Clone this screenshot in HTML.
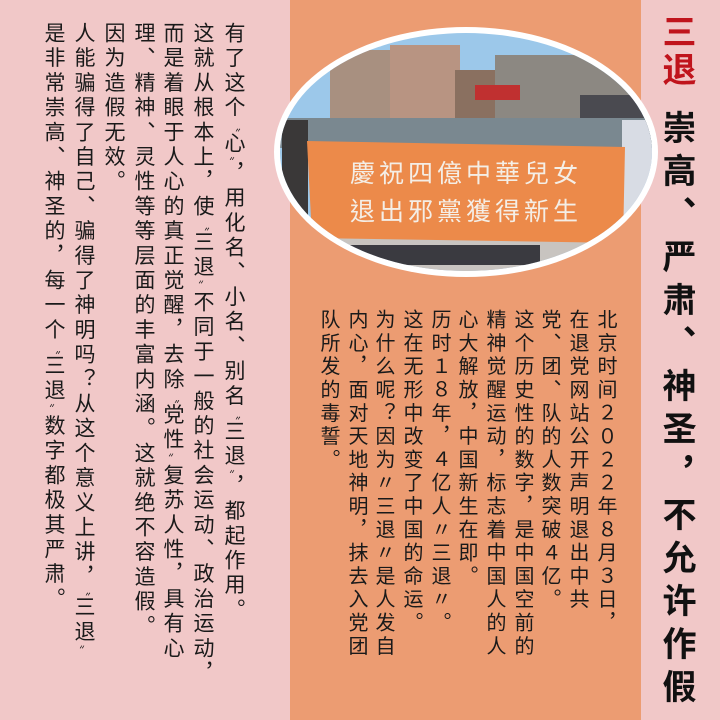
<!DOCTYPE html>
<html><head><meta charset="utf-8">
<style>
html,body{margin:0;padding:0}
body{width:720px;height:720px;position:relative;overflow:hidden;background:#f1c8c8;font-family:"Noto Sans CJK SC",sans-serif;}
.col{position:absolute;writing-mode:vertical-rl;text-orientation:upright;white-space:nowrap;color:#1a1a1a;font-family:"Noto Sans CJK SC",sans-serif;}
.l{font-size:21px;letter-spacing:3.7px;width:30px;top:22px;line-height:30px}
.m{font-size:20px;letter-spacing:3.3px;width:27px;top:309px;line-height:27px}
.t{font-size:34px;font-weight:bold;width:46px;line-height:46px;left:656px;letter-spacing:9px}
.q{font-size:11px;letter-spacing:0;font-family:"Noto Sans CJK JP",sans-serif}
</style></head><body>
<div style="position:absolute;left:0;top:0;width:290px;height:720px;background:#f1c8c8"></div>
<div style="position:absolute;left:290px;top:0;width:351px;height:720px;background:#ec9c72"></div>
<div style="position:absolute;left:641px;top:0;width:79px;height:720px;background:#f1c8c8"></div>

<svg style="position:absolute;left:0;top:0" width="720" height="720">
<defs><clipPath id="ec"><ellipse cx="466" cy="152" rx="186" ry="119"/></clipPath></defs>
<ellipse cx="466" cy="152" rx="192" ry="125" fill="#fff"/>
<g clip-path="url(#ec)">
<rect x="270" y="20" width="400" height="270" fill="#9cc8ea"/>
<rect x="330" y="50" width="60" height="70" fill="#a89080"/>
<rect x="390" y="45" width="70" height="80" fill="#b89482"/>
<rect x="455" y="70" width="60" height="50" fill="#8a7060"/>
<rect x="495" y="55" width="140" height="85" fill="#8c8882"/>
<rect x="475" y="85" width="45" height="15" fill="#c03030"/>
<rect x="580" y="95" width="90" height="50" fill="#4a4a50"/>
<rect x="270" y="118" width="400" height="30" fill="#7a8890"/>
<rect x="270" y="225" width="400" height="60" fill="#c8c4c0"/>
<rect x="340" y="245" width="200" height="20" fill="#3a3a40"/>
<rect x="282" y="120" width="26" height="100" fill="#3a3838"/>
<rect x="622" y="120" width="36" height="100" fill="#d8dce4"/>
<polygon points="307,141 625,147 623,243 312,238" fill="#ec8a4a"/>
<text x="466" y="182" text-anchor="middle" font-family="Noto Sans CJK TC,sans-serif" font-size="25" fill="#f4eee6" letter-spacing="4">慶祝四億中華兒女</text>
<text x="466" y="220" text-anchor="middle" font-family="Noto Sans CJK TC,sans-serif" font-size="25" fill="#f4eee6" letter-spacing="4">退出邪黨獲得新生</text>
</g>
</svg>

<div class="col l" style="left:220px">有了这个<span class="q">〝</span>心<span class="q">〞</span>，用化名、小名、别名<span class="q">〝</span>三退<span class="q">〞</span>，都起作用。</div>
<div class="col l" style="left:189px">这就从根本上，使<span class="q">〝</span>三退<span class="q">〞</span>不同于一般的社会运动、政治运动，</div>
<div class="col l" style="left:159px">而是着眼于人心的真正觉醒，去除<span class="q">〝</span>党性<span class="q">〞</span>复苏人性，具有心</div>
<div class="col l" style="left:130px">理、精神、灵性等等层面的丰富内涵。这就绝不容造假。</div>
<div class="col l" style="left:100px">因为造假无效。</div>
<div class="col l" style="left:70px">人能骗得了自己、骗得了神明吗？从这个意义上讲，<span class="q">〝</span>三退<span class="q">〞</span></div>
<div class="col l" style="left:40px">是非常崇高、神圣的，每一个<span class="q">〝</span>三退<span class="q">〞</span>数字都极其严肃。</div>

<div class="col m" style="left:594px">北京时间２０２２年８月３日，</div>
<div class="col m" style="left:566px">在退党网站公开声明退出中共</div>
<div class="col m" style="left:538px">党、团、队的人数突破４亿。</div>
<div class="col m" style="left:511px">这个历史性的数字，是中国空前的</div>
<div class="col m" style="left:483px">精神觉醒运动，标志着中国人的人</div>
<div class="col m" style="left:455px">心大解放，中国新生在即。</div>
<div class="col m" style="left:428px">历时１８年，４亿人〃三退〃。</div>
<div class="col m" style="left:400px">这在无形中改变了中国的命运。</div>
<div class="col m" style="left:372px">为什么呢？因为〃三退〃是人发自</div>
<div class="col m" style="left:345px">内心，面对天地神明，抹去入党团</div>
<div class="col m" style="left:317px">队所发的毒誓。</div>

<div class="col t" style="top:14px;color:#c0141c;letter-spacing:4px">三退</div>
<div class="col t" style="top:110px;color:#111">崇高、严肃、神圣，不允许作假</div>
</body></html>
